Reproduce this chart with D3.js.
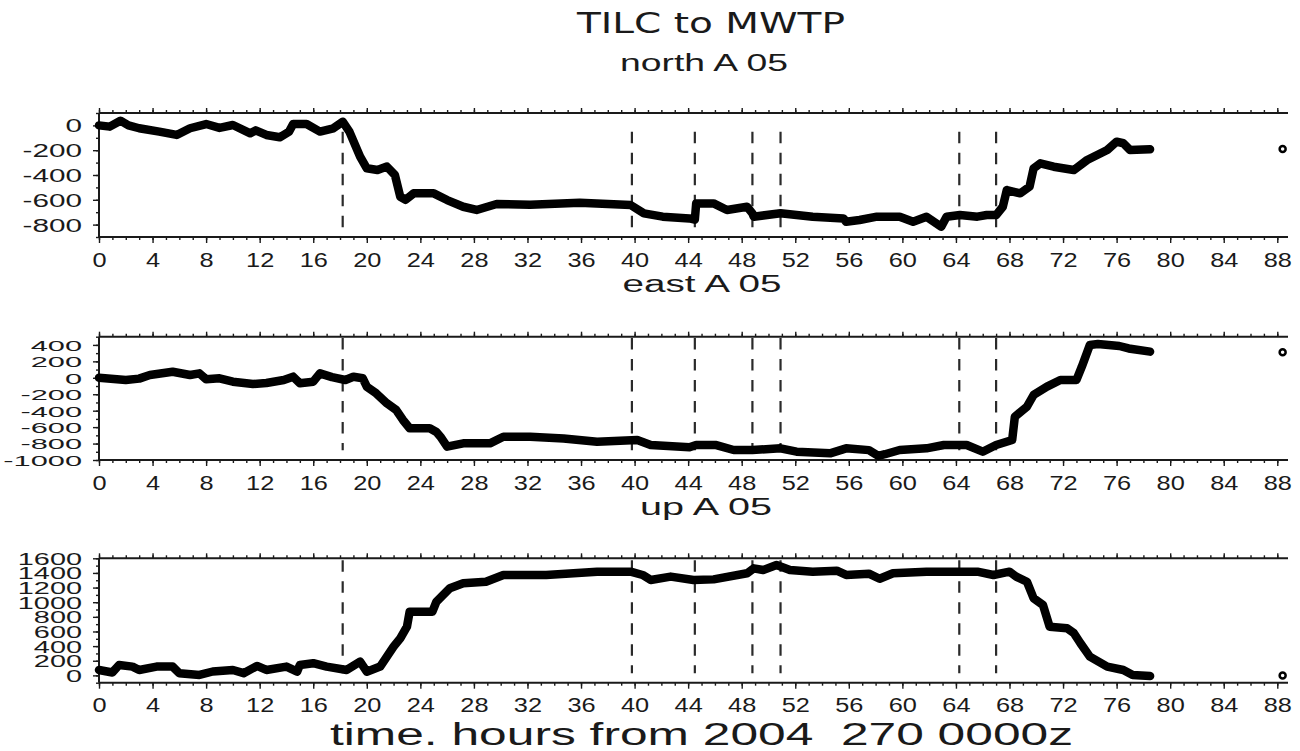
<!DOCTYPE html>
<html><head><meta charset="utf-8">
<script src="https://cdn.jsdelivr.net/npm/d3@7"></script>
<style>html,body{margin:0;padding:0;background:#fff;} svg{display:block}</style>
</head><body><svg id="c" width="1300" height="751"></svg>
<script>
// ---------------- data ----------------
const mainTitle = "TILC to MWTP";
const panelNames = ["north A 05", "east A 05", "up A 05"];
const xAxisTitle = "time. hours from 2004  270 0000z";
const hourTicks = [0,4,8,12,16,20,24,28,32,36,40,44,48,52,56,60,64,68,72,76,80,84,88];
const minorHours = [0,1,2,3,4,5,6,7,8,9,10,11,12,13,14,15,16,17,18,19,20,21,22,23,24,25,26,27,28,29,30,31,32,33,34,35,36,37,38,39,40,41,42,43,44,45,46,47,48,49,50,51,52,53,54,55,56,57,58,59,60,61,62,63,64,65,66,67,68,69,70,71,72,73,74,75,76,77,78,79,80,81,82,83,84,85,86,87,88];
const eventHours = [18.2, 39.8, 44.5, 48.8, 50.9, 64.25, 67.0];

const northYTicks = [0,-200,-400,-600,-800];
const eastYTicks = [400,200,0,-200,-400,-600,-800,-1000];
const upYTicks = [1600,1400,1200,1000,800,600,400,200,0];
const northYMinor = [100,0,-100,-200,-300,-400,-500,-600,-700,-800,-900];
const eastYMinor = [500,400,300,200,100,0,-100,-200,-300,-400,-500,-600,-700,-800,-900,-1000];
const upYMinor = [1600,1500,1400,1300,1200,1100,1000,900,800,700,600,500,400,300,200,100,0,-100];
const northDomain = [-900, 100];
const eastDomain = [-1000, 500];
const upDomain = [-100, 1600];
const dashRanges = [[-827,-51],[-880,485],[30,1575]];

const northHours = [0,0.8,1.6,2.2,3.0,4.5,5.8,6.8,8.0,9.0,10.0,11.3,11.7,12.5,13.5,14.2,14.5,15.5,16.5,17.5,18.2,18.7,19.5,20.0,20.8,21.5,22.1,22.5,22.9,23.5,25.0,26.0,27.2,28.2,29.7,32.2,35.9,39.7,40.7,42.1,44.1,44.5,44.6,45.9,46.9,48.4,48.8,48.9,50.9,53.3,55.6,55.8,56.8,58.1,59.8,60.8,61.8,62.9,63.3,64.3,65.6,66.3,67.0,67.5,67.8,68.8,69.5,69.8,70.3,71.3,72.8,73.8,75.3,76.0,76.5,77.0,78.5];
const northValues = [0,-10,38,0,-23,-50,-77,-23,11,-20,3,-64,-40,-77,-96,-50,11,11,-50,-23,30,-50,-252,-346,-360,-332,-400,-575,-600,-548,-548,-602,-656,-682,-634,-640,-623,-642,-709,-736,-750,-760,-629,-629,-682,-656,-709,-736,-709,-736,-750,-777,-763,-736,-736,-777,-736,-817,-736,-723,-736,-723,-723,-656,-521,-548,-494,-346,-306,-333,-360,-279,-198,-131,-144,-198,-193];

const eastHours = [0,2.0,3.0,3.8,5.5,6.8,7.5,8.0,9.0,10.0,11.5,12.5,13.8,14.5,15.0,16.0,16.5,17.4,18.4,19.0,19.7,20.0,20.7,21.5,22.2,22.7,23.2,24.7,25.2,25.5,26.0,27.2,29.2,30.2,32.2,34.7,37.2,40.2,41.2,44.1,44.6,46.1,47.4,48.8,50.9,52.1,54.6,55.8,57.5,58.2,58.7,59.8,61.8,63.1,64.8,66.0,67.0,68.2,68.4,69.3,69.8,70.8,71.8,73.0,73.4,74.0,74.6,76.2,76.9,78.5];
const eastValues = [0,-27,-10,34,74,34,54,-18,-6,-47,-75,-63,-27,14,-67,-47,54,8,-27,13,-6,-108,-189,-310,-392,-513,-614,-614,-660,-717,-838,-797,-797,-717,-717,-738,-777,-757,-818,-846,-818,-818,-878,-878,-858,-899,-919,-858,-880,-950,-930,-878,-858,-818,-818,-899,-818,-757,-473,-352,-209,-108,-27,-27,135,399,410,387,357,318];

const upHours = [0,1.0,1.5,2.5,3.0,4.3,5.5,6.0,7.5,8.5,10.0,10.8,11.8,12.5,14.0,14.8,15.0,16.0,17.0,18.5,19.5,20.0,21.0,21.5,22.0,22.5,23.0,23.2,24.9,25.2,26.2,27.2,28.9,30.2,33.4,37.2,39.7,40.6,41.2,42.7,44.4,45.9,48.4,48.9,49.6,50.6,51.6,53.3,55.1,55.8,57.5,58.3,59.3,61.8,64.3,65.6,66.8,68.0,68.5,69.3,69.8,70.5,71.0,72.3,72.8,73.3,74.0,75.3,76.5,77.2,78.5];
const upValues = [74,40,142,120,74,120,120,30,6,53,74,30,129,74,120,51,142,166,120,74,188,51,120,256,392,507,666,871,871,1007,1190,1258,1280,1372,1372,1417,1417,1372,1304,1350,1304,1312,1395,1463,1440,1508,1440,1417,1430,1372,1390,1320,1395,1417,1417,1417,1372,1417,1350,1280,1054,962,666,644,580,439,256,119,74,6,-10];

const outlierHour = 88.4;
const outlierValues = [-190, 310, 0];

// ---------------- layout ----------------
const panels = [
  {hours: northHours, values: northValues, domain: northDomain, ticks: northYTicks, minor: northYMinor,
   top: 113, bottom: 237, lab: {size: 18, sx: 1.65}, name: {x: 704, y: 71, len: 168}},
  {hours: eastHours, values: eastValues, domain: eastDomain, ticks: eastYTicks, minor: eastYMinor,
   top: 336.7, bottom: 460, lab: {size: 15, sx: 2.05}, name: {x: 702, y: 292, len: 159}},
  {hours: upHours, values: upValues, domain: upDomain, ticks: upYTicks, minor: upYMinor,
   top: 558.3, bottom: 682.7, lab: {size: 16.5, sx: 1.75}, name: {x: 706, y: 515, len: 132}}
];

const svg = d3.select("#c");
const x = d3.scaleLinear().domain([0, 88.8]).range([99, 1288]);
const ink = "#1a1a1a";
const helv = "'Liberation Sans', Arial, Helvetica, sans-serif";

svg.append("text").text(mainTitle)
  .attr("x", 711).attr("y", 33).attr("text-anchor", "middle")
  .attr("font-family", "'DejaVu Sans', Verdana, sans-serif").attr("font-size", 29)
  .attr("textLength", 268).attr("lengthAdjust", "spacingAndGlyphs").attr("fill", ink);

panels.forEach((p, i) => {
  const y = d3.scaleLinear().domain(p.domain).range([p.bottom, p.top]);
  const g = svg.append("g");

  svg.append("text").text(panelNames[i])
    .attr("x", p.name.x).attr("y", p.name.y).attr("text-anchor", "middle")
    .attr("font-family", helv).attr("font-size", 23)
    .attr("textLength", p.name.len).attr("lengthAdjust", "spacingAndGlyphs").attr("fill", ink);

  const styleAxis = sel => {
    sel.select(".domain").remove();
    sel.selectAll(".tick line").attr("stroke", ink).attr("stroke-width", 1.4);
  };
  g.append("g").attr("transform", `translate(0,${p.bottom})`)
    .call(d3.axisBottom(x).tickValues(minorHours).tickSize(3).tickFormat("")).call(styleAxis);
  g.append("g").attr("transform", `translate(0,${p.top})`)
    .call(d3.axisTop(x).tickValues(minorHours).tickSize(3).tickFormat("")).call(styleAxis);
  g.append("g").attr("transform", `translate(0,${p.top})`)
    .call(d3.axisTop(x).tickValues(hourTicks).tickSize(5).tickFormat("")).call(styleAxis);
  const bx = g.append("g").attr("transform", `translate(0,${p.bottom})`)
    .call(d3.axisBottom(x).tickValues(hourTicks).tickSize(6).tickFormat(d => d)).call(styleAxis);
  bx.selectAll(".tick text")
    .attr("y", 0).attr("dy", 0)
    .attr("transform", "translate(0,29.5) scale(1.3,1)")
    .attr("font-family", helv).attr("font-size", 19.5).attr("fill", ink);

  g.append("g").attr("transform", `translate(${x(0)},0)`)
    .call(d3.axisLeft(y).tickValues(p.minor).tickSize(3).tickFormat("")).call(styleAxis);
  const ly = g.append("g").attr("transform", `translate(${x(0)},0)`)
    .call(d3.axisLeft(y).tickValues(p.ticks).tickSize(6).tickFormat(d => d)).call(styleAxis);
  ly.selectAll(".tick text")
    .attr("x", 0).attr("dy", "0.36em")
    .attr("transform", `translate(-17,0) scale(${p.lab.sx},1)`)
    .attr("font-family", helv).attr("font-size", p.lab.size).attr("fill", ink);

  g.append("line").attr("x1", x(0)).attr("x2", x(88.8)).attr("y1", p.top).attr("y2", p.top)
    .attr("stroke", ink).attr("stroke-width", 2);
  g.append("line").attr("x1", x(0)).attr("x2", x(88.8)).attr("y1", p.bottom).attr("y2", p.bottom)
    .attr("stroke", ink).attr("stroke-width", 2);
  g.append("line").attr("x1", x(0)).attr("x2", x(0)).attr("y1", p.top).attr("y2", p.bottom)
    .attr("stroke", ink).attr("stroke-width", 2);

  g.selectAll("line.ev").data(eventHours).join("line").attr("class", "ev")
    .attr("x1", d => x(d)).attr("x2", d => x(d))
    .attr("y1", y(dashRanges[i][1])).attr("y2", y(dashRanges[i][0]))
    .attr("stroke", "#2a2a2a").attr("stroke-width", 2.2).attr("stroke-dasharray", "11.5,9.5");

  const pts = p.hours.map((h, k) => [h, p.values[k]]);
  g.append("path").datum(pts)
    .attr("d", d3.line().x(d => x(d[0])).y(d => y(d[1])))
    .attr("fill", "none").attr("stroke", "#000").attr("stroke-width", 8.5)
    .attr("stroke-linejoin", "round").attr("stroke-linecap", "round");

  g.append("circle").attr("cx", x(outlierHour)).attr("cy", y(outlierValues[i]))
    .attr("r", 3).attr("fill", "#fff").attr("stroke", "#000").attr("stroke-width", 2.5);
});

svg.append("text").text(xAxisTitle)
  .attr("x", 330).attr("y", 745).attr("text-anchor", "start")
  .style("white-space", "pre")
  .attr("font-family", helv).attr("font-size", 31)
  .attr("textLength", 743).attr("lengthAdjust", "spacingAndGlyphs").attr("fill", ink);
</script>
</body></html>
